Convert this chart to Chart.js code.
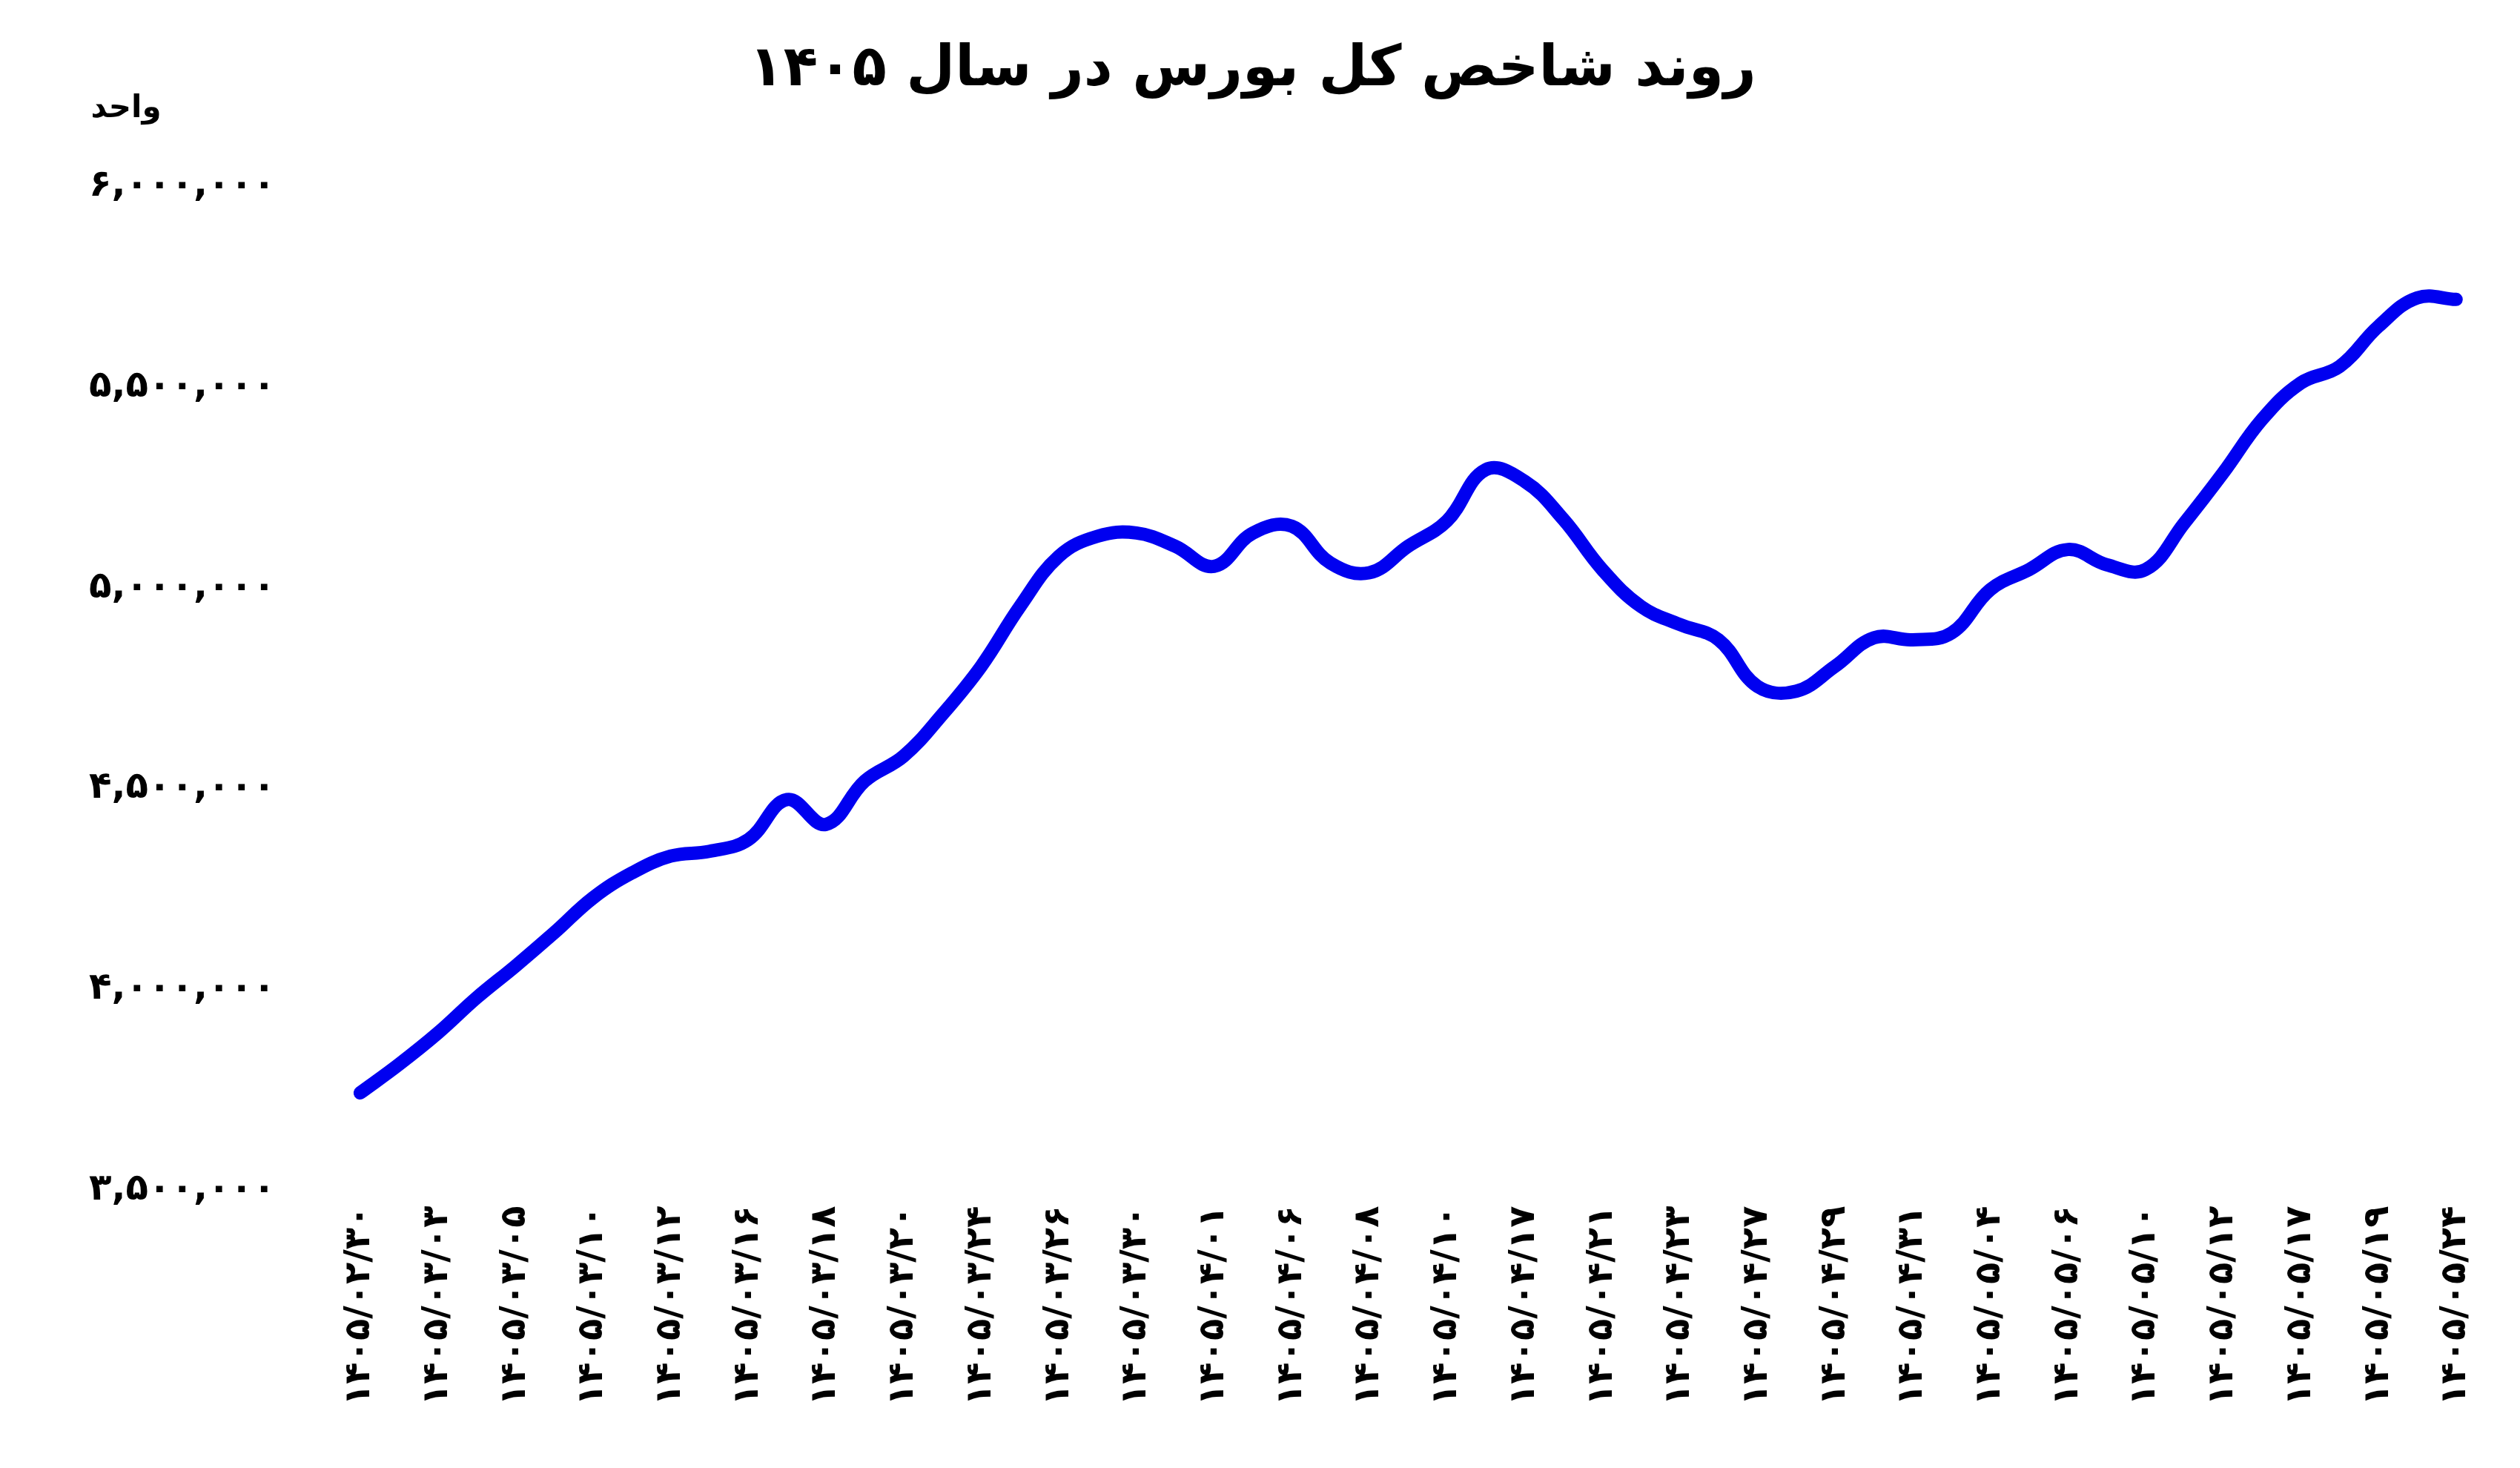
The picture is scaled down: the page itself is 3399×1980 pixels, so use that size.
<!DOCTYPE html>
<html><head><meta charset="utf-8">
<script src="https://cdn.jsdelivr.net/npm/chart.js@4/dist/chart.umd.min.js"></script>
<style>html,body{margin:0;background:#fff}#w{width:3399px;height:1980px}</style>
</head><body><div id="w"><canvas id="c"></canvas></div>
<script>
const titleText = 'روند شاخص کل بورس در سال ۱۴۰۵';
const unitText = 'واحد';
const dateLabels = ['1405/02/30','1405/03/03','1405/03/05','1405/03/10','1405/03/12','1405/03/16','1405/03/18','1405/03/20','1405/03/24','1405/03/26','1405/03/30','1405/04/01','1405/04/06','1405/04/08','1405/04/10','1405/04/17','1405/04/21','1405/04/23','1405/04/27','1405/04/29','1405/04/31','1405/05/04','1405/05/06','1405/05/10','1405/05/12','1405/05/17','1405/05/19','1405/05/24'];
const indexValues = [3741000,3812000,3890000,3978000,4057000,4140000,4227000,4289000,4331000,4343000,4372000,4472000,4410000,4518000,4580000,4684000,4804000,4953000,5078000,5128000,5136000,5103000,5053000,5136000,5153000,5061000,5037000,5103000,5166000,5294000,5265000,5170000,5045000,4953000,4908000,4870000,4754000,4742000,4804000,4875000,4870000,4887000,4995000,5045000,5095000,5057000,5045000,5161000,5286000,5419000,5510000,5551000,5651000,5722000,5718000];
const yTicks = {min:3500000,max:6000000,step:500000};

const fa = s => String(s).replace(/\d/g, d => '۰۱۲۳۴۵۶۷۸۹'[d]);
const labels = [];
dateLabels.forEach((d,i)=>{ labels.push(fa(d)); if(i<dateLabels.length-1) labels.push(''); });
const FONT = "'DejaVu Sans', sans-serif";

const unitPlugin = {id:'unit', afterDraw(ch){
  const c=ch.ctx, y=ch.scales.y;
  c.save(); c.font="bold 42px "+FONT; c.fillStyle='#000'; c.textAlign='center';
  c.fillText(unitText, 170, 158); c.restore();
}};

new Chart(document.getElementById('c'), {
  type:'line',
  data:{labels, datasets:[{data:indexValues, borderColor:'#0000f0', borderWidth:18, pointRadius:0, tension:0.4, fill:false, borderCapStyle:'round', borderJoinStyle:'round'}]},
  options:{responsive:true, maintainAspectRatio:false, animation:false,
    layout:{padding:{left:40,right:60,top:20,bottom:70}},
    plugins:{legend:{display:false}, tooltip:{enabled:false},
      title:{display:true, text:titleText, color:'#000', font:{family:FONT, size:76, weight:'bold'}, padding:{top:30,bottom:110}}},
    scales:{
      x:{offset:true, grid:{display:false}, border:{display:false},
         ticks:{autoSkip:false, minRotation:90, maxRotation:90, color:'#000', font:{family:FONT, size:48, weight:'bold'}, padding:14}},
      y:{min:yTicks.min, max:yTicks.max, grid:{display:false}, border:{display:false},
         ticks:{stepSize:yTicks.step, color:'#000', font:{family:FONT, size:50, weight:'bold'}, padding:80,
           callback:v=>fa(v.toLocaleString('en-US'))}}
    }},
  plugins:[unitPlugin]
});
</script></body></html>
